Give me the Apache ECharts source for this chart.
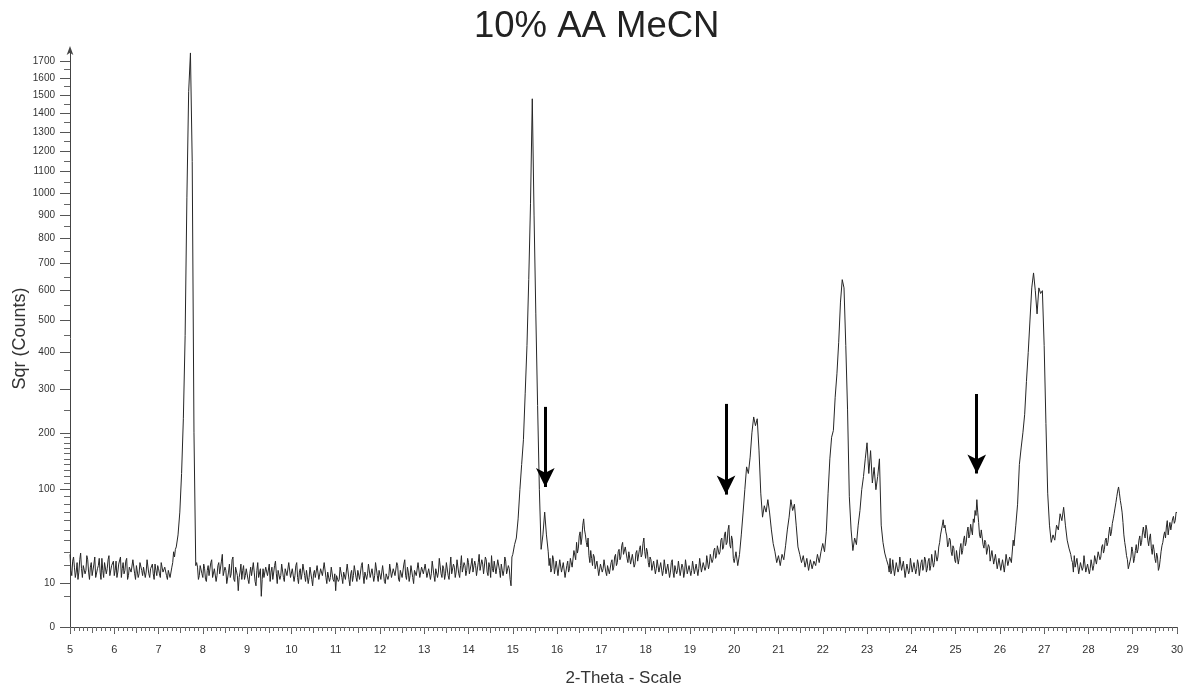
<!DOCTYPE html>
<html>
<head>
<meta charset="utf-8">
<script src="https://cdn.jsdelivr.net/npm/echarts@6/dist/echarts.min.js"></script>
<style>
html,body{margin:0;padding:0;background:#fff;}
#chart{width:1184px;height:688px;}
</style>
</head>
<body>
<div id="chart"></div>
<script>
// 2-Theta sampling steps (degrees)
const stepFine = 0.02;
const stepCoarse = 0.04;

// Counts, segment by segment
const countsA_start = 5.00;   // fine step
const countsA = [28,17,14,23,26,19,13,16,22,12,16,24,29,18,13,20,21,15,17,27,
  24,16,12,19,22,14,15,21,26,13,14,18,20,25,16,12,25,17,13,22,
  21,15,18,24,27,14,15,20,19,23,14,17,23,13,16,21,20,26,13,18,
  22,15,17,23,25,12,14,19,20,16,16,24,24,15,12,20,19,13,15,22,
  22,17,14,19,20,13,16,24,23,15,13,18,19,21,15,12,21,17,14,20,
  18,15,13,22,21,16,15,19,19,14,12,17,17,13,14,19,22,30,26,32];
const countsB_start = 7.40;   // coarse step
const countsB = [34,45,70,125,230,450,980,1520,1748,1150,200,20];
const countsC_start = 7.86;   // fine step
const countsC = [22,
  19,12,14,20,21,15,
  13,21,18,12,11,17,20,14,15,22,24,13,12,18,19,11,14,20,22,15,16,23,28,14,13,19,17,10,10,16,21,13,15,24,26,12,11,19,18,14,7,13,16,21,12,17,20,12,14,18,
  17,12,10,15,19,14,13,22,16,11,9,17,22,13,14,18,5,12,18,13,12,19,20,14,15,21,11,16,19,12,13,20,23,15,10,17,17,12,14,21,20,13,11,18,18,14,15,22,21,13,
  12,18,17,11,14,20,22,13,10,16,18,12,15,21,20,14,11,17,16,10,13,19,19,12,9,15,17,13,14,20,21,12,12,18,18,14,15,22,23,13,10,16,16,11,13,19,19,12,11,15,
  7,14,15,11,12,19,18,13,10,16,16,12,13,21,20,12,9,15,17,11,14,20,19,13,11,17,16,12,13,20,22,14,10,16,17,12,15,21,20,13,12,18,18,11,14,22,21,14,11,17,
  17,12,13,20,19,11,10,15,16,12,14,21,22,13,12,18,18,14,15,22,20,12,11,17,17,13,13,21,24,14,12,19,16,11,14,20,21,13,10,17,18,14,15,22,23,13,13,19,19,15,
  14,21,20,13,12,18,17,12,15,23,22,14,11,18,19,13,16,25,24,15,13,20,18,12,15,22,21,14,12,19,26,15,14,21,19,13,16,24,23,15,13,20,27,16,15,22,20,14,17,25,
  22,15,14,21,25,16,16,23,20,14,13,22,28,17,17,24,21,15,15,26,24,16,14,22,19,13,27,18,16,23,22,15,15,24,25,17,13,21,20,14,17,26,23,15,14,20,18,12,9,26];
const countsD_start = 15.00;  // coarse step
const countsD = [28,36,42,62,100,140,186,290,420,640,950,1480,900,520,260,100,32,45,70,45,30];
const countsE_start = 15.82;  // fine step
const countsE = [20,
  25,16,18,27,24,15,16,23,22,14,15,24,25,16,17,22,21,13,14,20,
  23,16,18,25,26,19,20,31,30,24,38,29,33,44,48,36,42,55,62,50,
  45,38,34,42,27,22,31,25,20,28,26,18,17,23,24,14,15,21,22,16,
  18,24,25,16,14,20,21,15,16,22,24,17,19,26,28,20,22,30,32,24,
  26,35,38,28,27,34,33,25,22,30,29,21,20,28,27,19,21,29,31,23,
  24,32,35,26,28,37,42,30,25,33,30,22,19,26,24,17,16,23,22,15,
  18,24,25,16,15,22,21,14,17,24,23,15,14,21,20,13,16,22,24,16,
  13,20,21,15,17,23,22,14,15,21,19,13,16,24,23,15,14,20,20,14,
  17,23,22,15,15,21,21,14,18,25,24,16,16,22,23,17,19,27,26,18,
  21,28,29,22,24,31,33,25,27,35,36,28,30,40,42,32,34,45,48,36,
  38,50,55,36,33,44,40,25];
const countsF_start = 20.00;  // coarse step
const countsF = [22,30,20,28,45,69,100,136,125,153,
  200,234,215,230,166,95,64,78,70,86,
  69,50,37,30,22,27,20,28,24,35,
  50,64,86,72,80,55,34,28,22,27,
  19,25,17,24,18,23,20,28,22,30];
const countsG_start = 22.00;  // coarse step
const countsG = [37,30,48,95,150,191,205,280,340,430,
  560,640,610,420,250,90,50,31,42,36,
  55,72,100,120,150,180,125,165,110,135,
  100,120,150,55,38,29,24,20];
const countsH_start = 23.50;  // fine step
const countsH = [16,
  25,15,17,24,23,14,15,22,21,16,18,26,26,17,16,23,22,13,14,21,
  20,15,17,25,25,16,16,22,23,15,18,24,21,14,15,22,24,17,19,26,
  24,16,18,23,25,17,20,28,27,19,22,31,30,23,26,34,38,45,46,55,
  61,52,55,48,44,34,36,42,40,30,27,35,33,24,22,31,30,21,25,33,
  37,28,31,40,44,35,38,48,53,42,45,56,50,45,62,58,72,66,86,70,
  58,45,42,50,48,36,33,40,38,28,27,36,34,23,24,31,30,21,20,28,
  27,18,19,25,26,17,18,24,25,16,21,28,29,20,19,26,27,22,23,40,
  35,45];
const countsI_start = 26.36;  // coarse step
const countsI = [55,80,140,170,200,240,320,400,500,610,
  665,600,520,610,590,600,420,220,95,55,
  38,45,40,55,50,68,60,76,55,40,
  33,28];
const countsJ_start = 27.62;  // fine step
const countsJ = [24,
  22,16,27,19,18,25,24,15,16,22,23,17,19,27,26,16,15,21,22,15,
  18,24,25,17,20,27,28,21,22,30,31,24,26,34,36,29,32,40,42,35,
  38,46,53,44,48,57,62,68,75,82,90,98,104,95,85,78,70,58,45,38,
  33,27,24,18,19,23,26,34,30,22,25,31,36,29,32,40,44,35,38,47,
  53,46,42,55,50,40,35,42,46,33,28,36,32,25,22,29,26,17,19,24,
  30,35,38,44,48,42,53,60,45,52,58,50,52,62,65,57,60,70,69];

// Axis tick values (counts)
const yMajorTicks = [0,10,100,200,300,400,500,600,700,800,900,1000,1100,1200,1300,1400,1500,1600,1700];
const yMinorTicks = [5,20,30,40,50,60,70,80,90,110,120,130,140,150,160,170,180,190,250,
  350,450,550,650,750,850,950,1050,1150,1250,1350,1450,1550,1650];
const xMin = 5, xMax = 30;
const yMaxCounts = 1766;

// Annotation arrows: 2-Theta position, tail counts, tip counts
const arrowTheta = [15.734, 19.815, 25.477];
const arrowTail = [257, 264, 288];
const arrowTip = [104, 93, 125];

const segments = [
  [countsA_start, stepFine, countsA], [countsB_start, stepCoarse, countsB],
  [countsC_start, stepFine, countsC], [countsD_start, stepCoarse, countsD],
  [countsE_start, stepFine, countsE], [countsF_start, stepCoarse, countsF],
  [countsG_start, stepCoarse, countsG], [countsH_start, stepFine, countsH],
  [countsI_start, stepCoarse, countsI], [countsJ_start, stepFine, countsJ]
];
const seriesData = [];
segments.forEach(([s, st, arr]) => {
  arr.forEach((c, i) => {
    seriesData.push([+(s + i * st).toFixed(3), Math.sqrt(c)]);
  });
});

const sq = v => Math.sqrt(v);
const font = 'Liberation Sans, Arial, Helvetica, sans-serif';

const chart = echarts.init(document.getElementById('chart'), null, {renderer: 'canvas'});
chart.setOption({
  animation: false,
  backgroundColor: '#ffffff',
  title: {
    text: '10% AA MeCN',
    left: 469,
    top: 3,
    textStyle: {fontSize: 36.5, fontWeight: 'normal', color: '#222', fontFamily: font}
  },
  grid: {left: 70, right: 7, top: 50, bottom: 61, containLabel: false, outerBoundsMode: 'none'},
  xAxis: [{
    type: 'value',
    min: xMin, max: xMax, interval: 1,
    name: '2-Theta - Scale',
    nameLocation: 'middle',
    nameGap: 43,
    nameMoveOverlap: false,
    nameTextStyle: {fontSize: 17, color: '#333', fontFamily: font},
    axisLine: {show: true, lineStyle: {color: '#444', width: 1}},
    axisTick: {show: true, length: 7, lineStyle: {color: '#555'}},
    minorTick: {show: true, splitNumber: 10, length: 4, lineStyle: {color: '#666'}},
    axisLabel: {fontSize: 11, color: '#333', margin: 17, fontFamily: font},
    splitLine: {show: false}
  }, {
    type: 'value',
    min: xMin, max: xMax, interval: 0.5,
    position: 'bottom',
    axisLine: {show: false},
    axisTick: {show: true, length: 6, lineStyle: {color: '#666'}},
    axisLabel: {show: false},
    splitLine: {show: false}
  }],
  yAxis: [{
    type: 'value',
    min: 0, max: sq(yMaxCounts),
    name: 'Sqr (Counts)',
    nameLocation: 'middle',
    nameGap: 41,
    nameMoveOverlap: false,
    nameTextStyle: {fontSize: 18, color: '#333', fontFamily: font},
    axisLine: {show: true, symbol: ['none', 'arrow'], symbolSize: [5, 9], symbolOffset: [0, 4], lineStyle: {color: '#444', width: 1}},
    axisTick: {show: true, length: 10, customValues: yMajorTicks.map(sq), lineStyle: {color: '#555'}},
    axisLabel: {
      fontSize: 10, color: '#333', margin: 15, fontFamily: font,
      customValues: yMajorTicks.map(sq),
      formatter: v => String(Math.round(v * v))
    },
    splitLine: {show: false}
  }, {
    type: 'value',
    min: 0, max: sq(yMaxCounts),
    position: 'left',
    axisLine: {show: false},
    axisTick: {show: true, length: 6, customValues: yMinorTicks.map(sq), lineStyle: {color: '#666'}},
    axisLabel: {show: false, customValues: yMinorTicks.map(sq)},
    splitLine: {show: false}
  }],
  series: [{
    type: 'line',
    xAxisIndex: 0,
    yAxisIndex: 0,
    data: seriesData,
    showSymbol: false,
    symbol: 'none',
    sampling: 'none',
    lineStyle: {color: '#262626', width: 1},
    silent: true,
    markLine: {
      silent: true,
      symbol: ['none', 'arrow'],
      symbolSize: 17,
      label: {show: false},
      lineStyle: {color: '#000', width: 3, type: 'solid'},
      data: arrowTheta.map((t, i) => [
        {coord: [t, sq(arrowTail[i])]},
        {coord: [t, sq(arrowTip[i])], symbolSize: [14, 19]}
      ])
    }
  }]
});
</script>
</body>
</html>
